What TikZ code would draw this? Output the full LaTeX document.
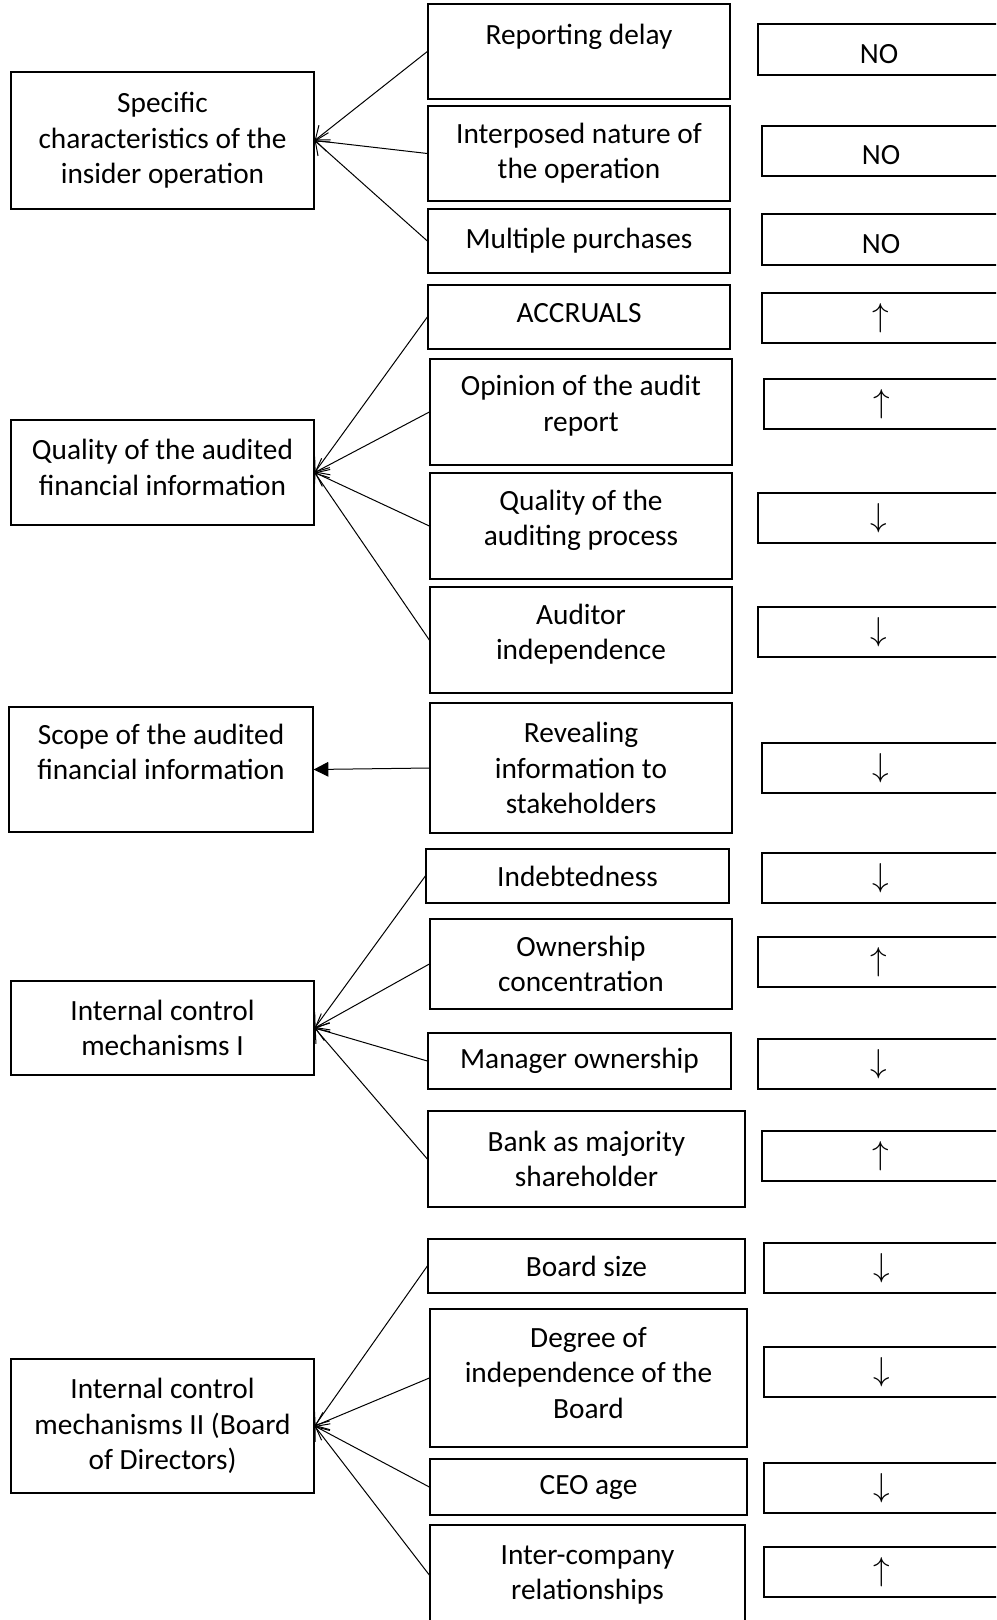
\documentclass[tikz,border=0pt]{standalone}
\usepackage{fontspec}
\setmainfont{Carlito}
\usetikzlibrary{arrows.meta}
\tikzset{every picture/.style={line width=0.75pt}}
\tikzset{
  box/.style 2 args={draw, line width=1pt, align=center, inner sep=0pt,
    minimum width=#1*0.75pt, minimum height=#2*0.75pt,
    font=\fontsize{22}{26.5}\selectfont},
  effect/.style={font=\fontsize{26}{28}\selectfont},
  link/.style={-{Straight Barb[length=9pt,width=14pt]}},
  solidlink/.style={-{Triangle[length=11pt,width=11pt]}}
}
% extra depth on the last line, lifts the text a little
\newcommand{\liftby}[1]{\rule[-#1]{0pt}{#1}}
% extra height, drops the text a little
\newcommand{\NOtxt}{\rule{0pt}{21pt}NO}

\begin{document}
\begin{tikzpicture}[x=0.75pt,y=0.75pt,yscale=-1]
\useasboundingbox (0,0) rectangle (996,1620);
\clip (0,0) rectangle (996,1620);

% Left column
\node[box={303}{137}] (spec) at (162.5,140.5) {Specific\\characteristics of the\\insider operation};
\node[box={303}{105}] (qual) at (162.5,472.5) {Quality of the audited\\financial information\liftby{8pt}};
\node[box={304}{125}] (scope) at (161,769.5) {Scope of the audited\\financial information\\ \mbox{}};
\node[box={303}{94}] (icmone) at (162.5,1028) {Internal control\\mechanisms I};
\node[box={303}{134}] (icmtwo) at (162.5,1426) {Internal control\\mechanisms II (Board\\of Directors)};

% Middle column
\node[box={302}{95}] (delay) at (579,51.5) {Reporting delay\\ \mbox{}};
\node[box={302}{95}] (interp) at (579,153.5) {Interposed nature of\\the operation};
\node[box={302}{64}] (multi) at (579,241) {Multiple purchases};
\node[box={302}{64}] (accr) at (579,317) {ACCRUALS\liftby{6pt}};
\node[box={302}{106}] (opin) at (581,412) {Opinion of the audit\\report\liftby{13pt}};
\node[box={302}{106}] (audproc) at (581,526) {Quality of the\\auditing process\liftby{12pt}};
\node[box={302}{106}] (audind) at (581,640) {Auditor\\independence\liftby{12pt}};
\node[box={302}{130}] (reveal) at (581,768) {Revealing\\information to\\stakeholders};
\node[box={303}{54}] (debt) at (577.5,876) {Indebtedness};
\node[box={302}{90}] (owncon) at (581,964) {Ownership\\concentration};
\node[box={303}{56}] (manown) at (579.5,1061) {Manager ownership};
\node[box={317}{96}] (bank) at (586.5,1159) {Bank as majority\\shareholder};
\node[box={317}{54}] (bsize) at (586.5,1266) {Board size};
\node[box={317}{138}] (bind) at (588.5,1378) {Degree of\\independence of the\\Board\liftby{8pt}};
\node[box={317}{56}] (ceo) at (588.5,1487) {CEO age};
\node[box={315}{100}] (inter) at (587.5,1575) {Inter-company\\relationships};

% Right column (effects)
\node[box={242}{51}] (r1) at (879,49.5) {\NOtxt};
\node[box={238}{50}] (r2) at (881,151) {\NOtxt};
\node[box={238}{51}] (r3) at (881,239.5) {\NOtxt};
\node[box={238}{50}, effect] (r4) at (881,318) {$\uparrow$};
\node[box={236}{50}, effect] (r5) at (882,404) {$\uparrow$};
\node[box={242}{50}, effect] (r6) at (879,518) {$\downarrow$};
\node[box={242}{50}, effect] (r7) at (879,632) {$\downarrow$};
\node[box={238}{50}, effect] (r8) at (881,768) {$\downarrow$};
\node[box={238}{50}, effect] (r9) at (881,878) {$\downarrow$};
\node[box={242}{50}, effect] (r10) at (879,962) {$\uparrow$};
\node[box={242}{50}, effect] (r11) at (879,1064) {$\downarrow$};
\node[box={238}{50}, effect] (r12) at (881,1156) {$\uparrow$};
\node[box={236}{50}, effect] (r13) at (882,1268) {$\downarrow$};
\node[box={236}{50}, effect] (r14) at (882,1372) {$\downarrow$};
\node[box={236}{50}, effect] (r15) at (882,1488) {$\downarrow$};
\node[box={236}{50}, effect] (r16) at (882,1572) {$\uparrow$};

% Connectors
\draw[link] (delay.west) -- (spec.east);
\draw[link] (interp.west) -- (spec.east);
\draw[link] (multi.west) -- (spec.east);

\draw[link] (accr.west) -- (qual.east);
\draw[link] (opin.west) -- (qual.east);
\draw[link] (audproc.west) -- (qual.east);
\draw[link] (audind.west) -- (qual.east);

\draw[solidlink] (reveal.west) -- (scope.east);

\draw[link] (debt.west) -- (icmone.east);
\draw[link] (owncon.west) -- (icmone.east);
\draw[link] (manown.west) -- (icmone.east);
\draw[link] (bank.west) -- (icmone.east);

\draw[link] (bsize.west) -- (icmtwo.east);
\draw[link] (bind.west) -- (icmtwo.east);
\draw[link] (ceo.west) -- (icmtwo.east);
\draw[link] (inter.west) -- (icmtwo.east);
\end{tikzpicture}
\end{document}
